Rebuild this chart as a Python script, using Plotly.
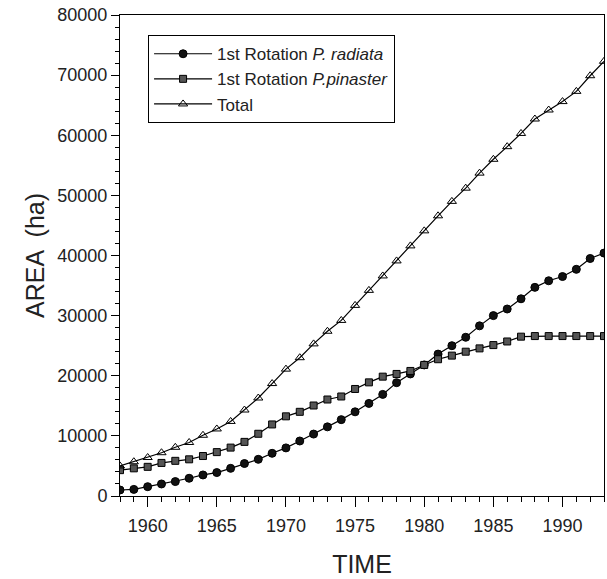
import plotly.graph_objects as go

years = list(range(1958, 1994))

radiata = [1000, 1100, 1550, 2000, 2400, 2950, 3500, 3900, 4600, 5400,
           6100, 7100, 8000, 9150, 10300, 11500, 12700, 14000, 15400, 16900,
           18850, 20300, 21800, 23600, 25000, 26400, 28300, 30000, 31100, 32800,
           34700, 35800, 36500, 37700, 39500, 40400]

pinaster = [4300, 4600, 4850, 5500, 5850, 6100, 6650, 7300, 8050, 9000,
            10350, 11900, 13250, 14000, 15050, 16050, 16550, 17800, 18900, 19850,
            20300, 20800, 21800, 22750, 23350, 24000, 24550, 25100, 25700, 26500,
            26600, 26600, 26600, 26600, 26600, 26600]

total = [5000, 5700, 6400, 7200, 8100, 8900, 10100, 11150, 12400, 14300,
         16300, 18700, 21100, 23000, 25300, 27400, 29200, 31700, 34200, 36600,
         39100, 41600, 44100, 46600, 49000, 51200, 53700, 56000, 58100, 60300,
         62700, 64200, 65600, 67300, 69900, 72300]

names = ["1st Rotation <i>P. radiata</i>",
         "1st Rotation <i>P.pinaster</i>",
         "Total"]

fig = go.Figure()
fig.add_trace(go.Scatter(
    x=years, y=radiata, name=names[0], mode="lines+markers",
    line=dict(color="black", width=1.2),
    marker=dict(symbol="circle", size=8, color="#111111",
                line=dict(color="black", width=1))))
fig.add_trace(go.Scatter(
    x=years, y=pinaster, name=names[1], mode="lines+markers",
    line=dict(color="black", width=1.2),
    marker=dict(symbol="square", size=7, color="#555555",
                line=dict(color="black", width=1))))
fig.add_trace(go.Scatter(
    x=years, y=total, name=names[2], mode="lines+markers",
    line=dict(color="black", width=1.2),
    marker=dict(symbol="triangle-up-open", size=8, color="black",
                line=dict(color="black", width=1))))

fig.update_layout(
    width=607, height=579,
    margin=dict(l=120, r=3, t=15, b=83),
    paper_bgcolor="white", plot_bgcolor="white",
    font=dict(family="Arial, Liberation Sans, sans-serif", size=18, color="#222222"),
    showlegend=True,
    legend=dict(x=0.058, y=0.958, xanchor="left", yanchor="top",
                bordercolor="black", borderwidth=1, bgcolor="white",
                font=dict(size=17, color="#222222"),
                tracegroupgap=0, itemwidth=58),
)
fig.update_xaxes(
    range=[1958, 1993], tickvals=[1960, 1965, 1970, 1975, 1980, 1985, 1990],
    ticks="outside", ticklen=10, tickwidth=1, tickcolor="black",
    tickfont=dict(size=18, color="#222222"), ticklabelstandoff=3,
    minor=dict(dtick=1, ticks="outside", ticklen=5, tickcolor="black", tick0=1958),
    showline=True, linecolor="black", linewidth=1, mirror=True,
    showgrid=False, zeroline=False,
    title=dict(text="TIME", font=dict(size=25, color="#222222"), standoff=20),
)
fig.update_yaxes(
    range=[0, 80000], dtick=10000, tickformat="d",
    ticks="outside", ticklen=8, tickwidth=1, tickcolor="black",
    tickfont=dict(size=18, color="#222222"),
    minor=dict(dtick=2000, ticks="outside", ticklen=4, tickcolor="black"),
    showline=True, linecolor="black", linewidth=1, mirror=True,
    showgrid=False, zeroline=False,
    title=dict(text="AREA  (ha)", font=dict(size=25, color="#222222"), standoff=5),
)

fig.write_html("out.html")
